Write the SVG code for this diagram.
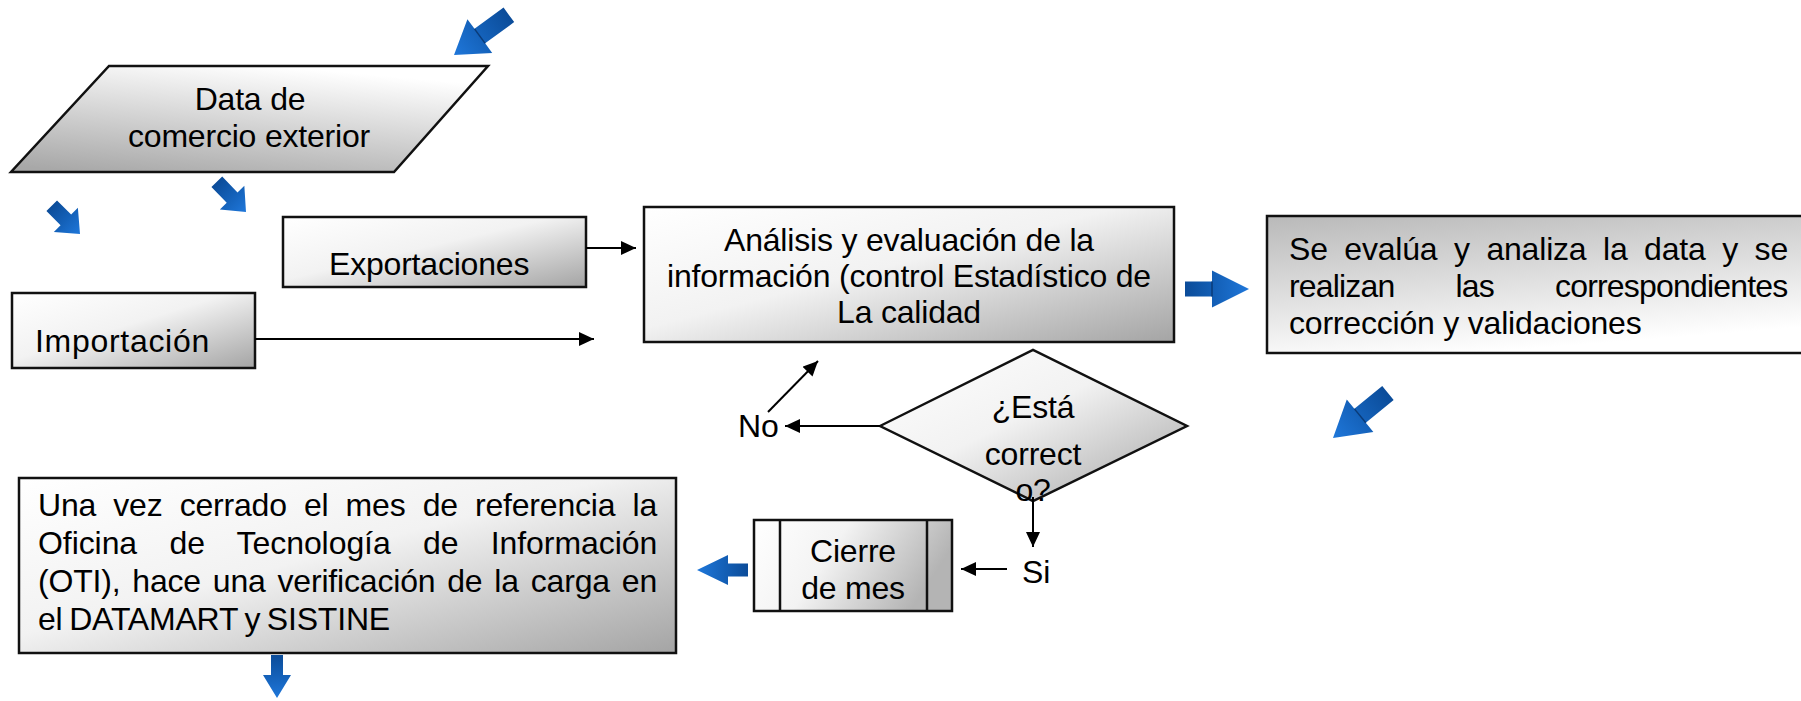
<svg xmlns="http://www.w3.org/2000/svg" width="1801" height="701" viewBox="0 0 1801 701">
<defs>
<style>
.t{font-family:"Liberation Sans",Arial,sans-serif;font-size:32px;fill:#000;letter-spacing:-0.2px}
.m{text-anchor:middle}
.box{stroke:#111;stroke-width:2.5}
.ln{stroke:#000;stroke-width:2;fill:none;marker-end:url(#ah)}
.ba{fill:url(#blue)}
.sep{stroke:#0a3b78;stroke-width:1.5}
</style>
<marker id="ah" markerUnits="userSpaceOnUse" markerWidth="16" markerHeight="14" refX="15" refY="7" orient="auto"><path d="M0,0 L15,7 L0,14 Z" fill="#000"/></marker>
<linearGradient id="gDiag" x1="0" y1="0" x2="1" y2="1"><stop offset="0" stop-color="#ffffff"/><stop offset="0.45" stop-color="#f2f2f2"/><stop offset="1" stop-color="#a4a4a4"/></linearGradient>
<linearGradient id="gRight" x1="0" y1="0" x2="0.35" y2="1"><stop offset="0" stop-color="#b9b9b9"/><stop offset="1" stop-color="#ffffff"/></linearGradient>
<linearGradient id="gPara" x1="0.15" y1="1" x2="0.55" y2="0"><stop offset="0" stop-color="#a8a8a8"/><stop offset="1" stop-color="#ffffff"/></linearGradient>
<linearGradient id="gHor" x1="0" y1="0" x2="1" y2="0.3"><stop offset="0" stop-color="#ffffff"/><stop offset="0.45" stop-color="#f3f3f3"/><stop offset="1" stop-color="#b4b4b4"/></linearGradient>
<linearGradient id="blue" x1="0" y1="0" x2="1" y2="0"><stop offset="0" stop-color="#0b4c99"/><stop offset="0.5" stop-color="#1461b9"/><stop offset="1" stop-color="#1f77da"/></linearGradient>
</defs>
<rect width="1801" height="701" fill="#ffffff"/>

<g id="node-data">
<polygon class="box" points="109,66 488,66 394,172 11,172" fill="url(#gPara)"/>
<text class="t m" x="250" y="110">Data de</text>
<text class="t m" x="249" y="147">comercio exterior</text>
</g>

<g id="node-exportaciones">
<rect class="box" x="283" y="217" width="303" height="70" fill="url(#gDiag)"/>
<text class="t" x="329" y="275">Exportaciones</text>
</g>

<g id="node-importacion">
<rect class="box" x="12" y="293" width="243" height="75" fill="url(#gDiag)"/>
<text class="t" x="35" y="352" textLength="174" lengthAdjust="spacing">Importación</text>
</g>

<g id="node-analisis">
<rect class="box" x="644" y="207" width="530" height="135" fill="url(#gDiag)"/>
<text class="t m" x="909" y="251">Análisis y evaluación de la</text>
<text class="t m" x="909" y="287">información (control Estadístico de</text>
<text class="t m" x="909" y="323">La calidad</text>
</g>

<g id="node-evalua">
<rect class="box" x="1267" y="216" width="600" height="137" fill="url(#gRight)"/>
<text class="t" x="1289" y="260" textLength="499" lengthAdjust="spacing" style="word-spacing:7.9px">Se evalúa y analiza la data y se</text>
<text class="t" x="1289" y="297" textLength="499" lengthAdjust="spacing" style="word-spacing:53px">realizan las correspondientes</text>
<text class="t" x="1289" y="334">corrección y validaciones</text>
</g>

<g id="node-decision">
<polygon class="box" points="880,426 1033,350 1187,426 1033,501" fill="url(#gDiag)"/>
<text class="t m" x="1033" y="418">¿Está</text>
<text class="t m" x="1033" y="465">correct</text>
<text class="t m" x="1033" y="501">o?</text>
</g>

<g id="label-no">
<text class="t" x="738" y="437">No</text>
</g>

<g id="label-si">
<text class="t" x="1022" y="583">Si</text>
</g>

<g id="node-cierre">
<rect class="box" x="754" y="520" width="198" height="91" fill="url(#gHor)"/>
<line class="box" x1="780" y1="520" x2="780" y2="611"/>
<line class="box" x1="927" y1="520" x2="927" y2="611"/>
<text class="t m" x="853" y="562">Cierre</text>
<text class="t m" x="853" y="599">de mes</text>
</g>

<g id="node-oti">
<rect class="box" x="19" y="478" width="657" height="175" fill="url(#gDiag)"/>
<text class="t" x="38" y="516" textLength="619" lengthAdjust="spacing" style="word-spacing:8.5px">Una vez cerrado el mes de referencia la</text>
<text class="t" x="38" y="554" textLength="619" lengthAdjust="spacing" style="word-spacing:23.5px">Oficina de Tecnología de Información</text>
<text class="t" x="38" y="592" textLength="619" lengthAdjust="spacing" style="word-spacing:3.2px">(OTI), hace una verificación de la carga en</text>
<text class="t" x="38" y="630" style="word-spacing:-2px">el DATAMART y SISTINE</text>
</g>

<g id="connectors">
<path class="ln" d="M586,248 H636"/>
<path class="ln" d="M255,339 H594"/>
<path class="ln" d="M880,426 H785"/>
<path class="ln" d="M768,412 L818,361"/>
<path class="ln" d="M1033,497 V547"/>
<path class="ln" d="M1007,569 H961"/>
</g>

<g id="block-arrows">
<g transform="translate(454,55) rotate(143.8)">
<path class="ba" d="M-68,-9 L-32,-9 L-32,-21 L0,0 L-32,21 L-32,9 L-68,9 Z"/>
<line class="sep" x1="-32" y1="-9" x2="-32" y2="9"/>
</g>
<g transform="translate(80,234) rotate(45)">
<path class="ba" d="M-40,-7.5 L-20,-7.5 L-20,-17 L0,0 L-20,17 L-20,7.5 L-40,7.5 Z"/>
</g>
<g transform="translate(246,212) rotate(46)">
<path class="ba" d="M-42,-7.5 L-20,-7.5 L-20,-17 L0,0 L-20,17 L-20,7.5 L-42,7.5 Z"/>
</g>
<g transform="translate(1249,289)">
<path class="ba" d="M-64,-7.5 L-37,-7.5 L-37,-18.5 L0,0 L-37,18.5 L-37,7.5 L-64,7.5 Z"/>
<line class="sep" x1="-37" y1="-7.5" x2="-37" y2="7.5"/>
</g>
<g transform="translate(1333,438) rotate(140.7)">
<path class="ba" d="M-71,-9 L-35,-9 L-35,-21 L0,0 L-35,21 L-35,9 L-71,9 Z"/>
<line class="sep" x1="-35" y1="-9" x2="-35" y2="9"/>
</g>
<g transform="translate(697,570) rotate(180)">
<path class="ba" d="M-51,-6.5 L-31,-6.5 L-31,-15 L0,0 L-31,15 L-31,6.5 L-51,6.5 Z"/>
</g>
<g transform="translate(277,698) rotate(90)">
<path class="ba" d="M-43,-6 L-23,-6 L-23,-14 L0,0 L-23,14 L-23,6 L-43,6 Z"/>
</g>
</g>
</svg>
